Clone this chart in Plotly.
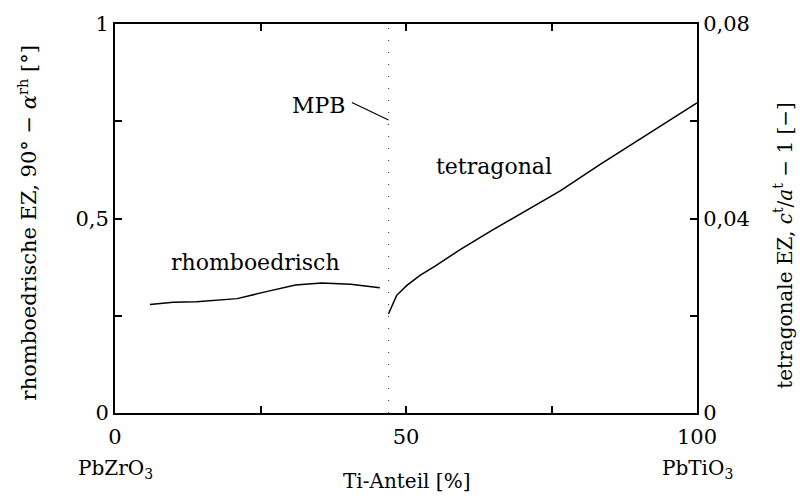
import plotly.graph_objects as go

# data
rh_x = [6, 10, 14, 21, 26, 31, 35.5, 40.5, 45.5]
rh_y = [0.279, 0.285, 0.286, 0.294, 0.312, 0.329, 0.334, 0.331, 0.322]
te_x = [47.0, 48.4, 50.1, 52.4, 55.0, 59.3, 64.4, 76.5, 83.3, 100]
te_y = [0.0204, 0.0242, 0.0262, 0.0283, 0.0302, 0.0336, 0.0373, 0.0457, 0.0511, 0.0638]
mpb_x = 47
mpb_label_line_x = [40.7, 47]
mpb_label_line_y = [0.798, 0.753]

x_tickvals = [0, 25, 50, 75, 100]
x_ticktext = ["0", "", "50", "", "100"]
y1_tickvals = [0, 0.25, 0.5, 0.75, 1]
y1_ticktext = ["0", "", "0,5", "", "1"]
y2_tickvals = [0, 0.02, 0.04, 0.06, 0.08]
y2_ticktext = ["0", "", "0,04", "", "0,08"]

FONT = "DejaVu Serif"
FS_TICK = 21
FS_LAB = 22
FS_TITLE = 20

fig = go.Figure()
fig.add_trace(go.Scatter(x=[mpb_x, mpb_x], y=[0, 1], mode="lines",
                         line=dict(color="#444", width=1.2, dash="1px,11px"), showlegend=False))
fig.add_trace(go.Scatter(x=rh_x, y=rh_y, mode="lines",
                         line=dict(color="black", width=1.5), showlegend=False))
fig.add_trace(go.Scatter(x=mpb_label_line_x, y=mpb_label_line_y, mode="lines",
                         line=dict(color="black", width=1.2), showlegend=False))
fig.add_trace(go.Scatter(x=te_x, y=te_y, mode="lines", yaxis="y2",
                         line=dict(color="black", width=1.5), showlegend=False))

axis_common = dict(showgrid=False, zeroline=False, showline=True, linecolor="black",
                   linewidth=2, ticks="inside", ticklen=7, tickwidth=2, tickcolor="black",
                   tickfont=dict(family=FONT, size=FS_TICK, color="black"))

fig.update_layout(
    width=800, height=499,
    margin=dict(l=115, r=103, t=17, b=86),
    plot_bgcolor="white", paper_bgcolor="white",
    font=dict(family=FONT, size=FS_LAB, color="black"),
    xaxis=dict(range=[0, 100], tickvals=x_tickvals, ticktext=x_ticktext, mirror="ticks",
               ticklabelstandoff=4, **axis_common),
    yaxis=dict(range=[0, 1], tickvals=y1_tickvals, ticktext=y1_ticktext, **axis_common),
    yaxis2=dict(range=[0, 0.08], tickvals=y2_tickvals, ticktext=y2_ticktext,
                overlaying="y", side="right", **axis_common),
)

lab = dict(family=FONT, size=FS_LAB, color="black")
tit = dict(family=FONT, size=FS_TITLE, color="black")
ann = [
    dict(text="rhomboedrisch", x=24.2, y=0.386, xref="x", yref="y", showarrow=False, font=lab),
    dict(text="tetragonal", x=65.1, y=0.634, xref="x", yref="y", showarrow=False, font=lab),
    dict(text="MPB", x=40.0, y=0.79, xref="x", yref="y", xanchor="right", showarrow=False, font=lab),
    dict(text="PbZrO<sub>3</sub>", x=0, y=-0.144, xref="x", yref="paper", yanchor="middle",
         showarrow=False, font=tit),
    dict(text="PbTiO<sub>3</sub>", x=100, y=-0.144, xref="x", yref="paper", yanchor="middle",
         showarrow=False, font=tit),
    dict(text="Ti-Anteil [%]", x=50, y=-0.174, xref="x", yref="paper", yanchor="middle",
         showarrow=False, font=tit),
    dict(text="rhomboedrische EZ, 90° − <i>α</i><sup>rh</sup> [°]", x=-0.1495, y=0.49,
         xref="paper", yref="paper", textangle=-90, xanchor="center", yanchor="middle",
         showarrow=False, font=dict(family=FONT, size=21, color="black")),
    dict(text="tetragonale EZ, <i>c</i><sup>t</sup>/<i>a</i><sup>t</sup> − 1 [−]", x=1.1478, y=0.43,
         xref="paper", yref="paper", textangle=-90, xanchor="center", yanchor="middle",
         showarrow=False, font=tit),
]
fig.update_layout(annotations=ann)

fig.write_html("out.html")
